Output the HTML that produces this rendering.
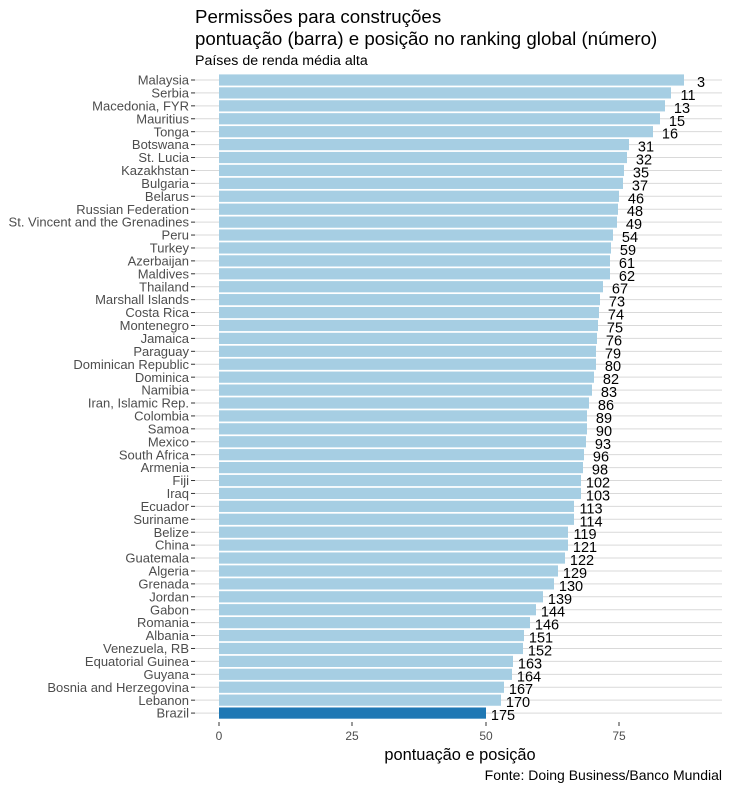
<!DOCTYPE html>
<html><head><meta charset="utf-8"><style>
html,body{margin:0;padding:0;background:#fff;}
svg{display:block;font-family:"Liberation Sans",Arial,sans-serif;}
.yl{font-size:13px;fill:#4d4d4d;text-anchor:end;}
.vl{font-size:14.5px;fill:#000;text-anchor:middle;}
</style></head><body>
<svg width="732" height="790" xmlns="http://www.w3.org/2000/svg">
<text x="195" y="23" font-size="18.7">Permissões para construções</text>
<text x="195" y="45" font-size="18.7">pontuação (barra) e posição no ranking global (número)</text>
<text x="195" y="65" font-size="14.2">Países de renda média alta</text>
<g id="rows"></g>
<g font-size="12" fill="#4d4d4d" text-anchor="middle">
<line x1="219" y1="722" x2="219" y2="726" stroke="#333"/><text x="219" y="740">0</text>
<line x1="352" y1="722" x2="352" y2="726" stroke="#333"/><text x="352" y="740">25</text>
<line x1="486" y1="722" x2="486" y2="726" stroke="#333"/><text x="486" y="740">50</text>
<line x1="619" y1="722" x2="619" y2="726" stroke="#333"/><text x="619" y="740">75</text>
</g>
<text x="460" y="760" font-size="16.4" text-anchor="middle">pontuação e posição</text>
<text x="722" y="780" font-size="14" text-anchor="end">Fonte: Doing Business/Banco Mundial</text>
</svg>
<script>
var d=[["Malaysia",684,3],["Serbia",671,11],["Macedonia, FYR",665,13],["Mauritius",660,15],["Tonga",653,16],["Botswana",629,31],["St. Lucia",627,32],["Kazakhstan",624,35],["Bulgaria",623,37],["Belarus",619,46],["Russian Federation",618,48],["St. Vincent and the Grenadines",617,49],["Peru",613,54],["Turkey",611,59],["Azerbaijan",610,61],["Maldives",610,62],["Thailand",603,67],["Marshall Islands",600,73],["Costa Rica",599,74],["Montenegro",598,75],["Jamaica",597,76],["Paraguay",596,79],["Dominican Republic",596,80],["Dominica",594,82],["Namibia",592,83],["Iran, Islamic Rep.",589,86],["Colombia",587,89],["Samoa",587,90],["Mexico",586,93],["South Africa",584,96],["Armenia",583,98],["Fiji",581,102],["Iraq",581,103],["Ecuador",574,113],["Suriname",574,114],["Belize",568,119],["China",568,121],["Guatemala",565,122],["Algeria",558,129],["Grenada",554,130],["Jordan",543,139],["Gabon",536,144],["Romania",530,146],["Albania",524,151],["Venezuela, RB",523,152],["Equatorial Guinea",513,163],["Guyana",512,164],["Bosnia and Herzegovina",504,167],["Lebanon",501,170],["Brazil",486,175]];
var s="";
d.forEach(function(r,i){var c=80+12.92*i;
s+='<line x1="195" x2="722" y1="'+c+'" y2="'+c+'" stroke="#d9d9d9" stroke-width="1"/>';
s+='<line x1="191" x2="195" y1="'+c+'" y2="'+c+'" stroke="#333"/>';
s+='<text class="yl" x="189" y="'+(c+4.6)+'">'+r[0]+'</text>';
s+='<rect x="219" y="'+(c-5.6)+'" width="'+(r[1]-219)+'" height="11.2" fill="'+(i==49?'#1f78b4':'#a6cee3')+'"/>';
s+='<text class="vl" x="'+(r[1]+17)+'" y="'+(c+7)+'">'+r[2]+'</text>';});
document.getElementById("rows").innerHTML=s;
</script>
</body></html>
